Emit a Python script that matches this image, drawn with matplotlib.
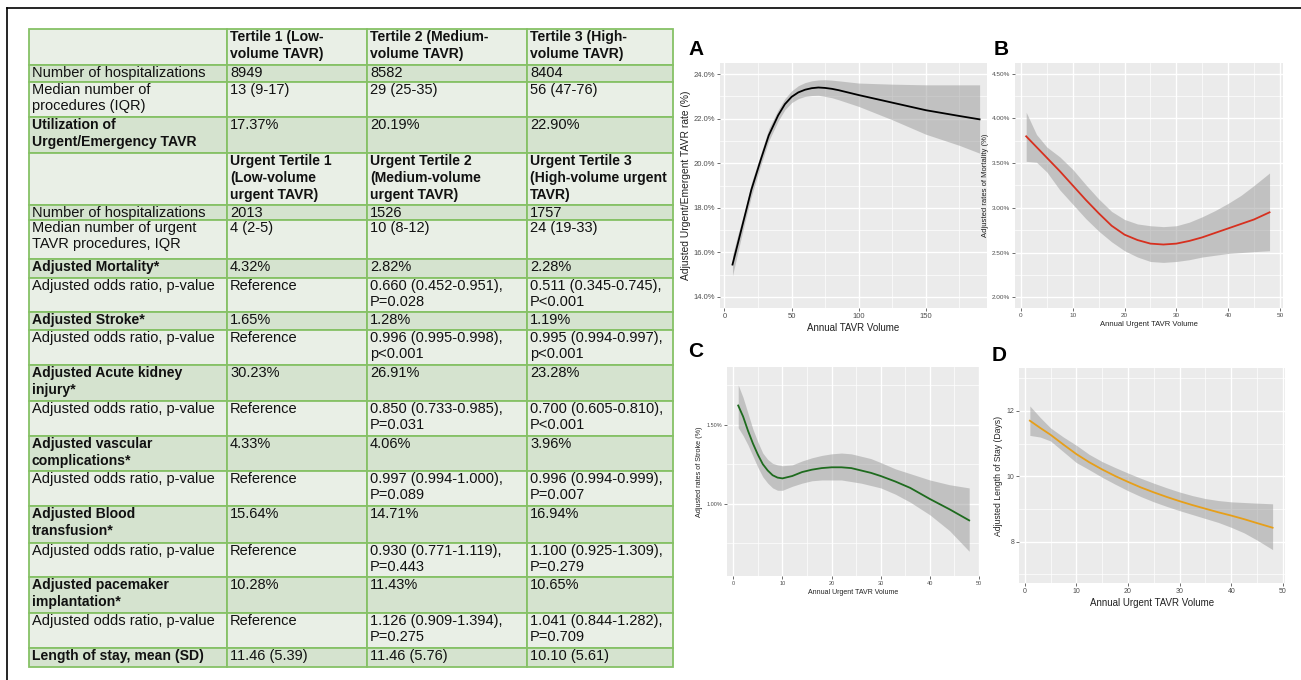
import matplotlib.pyplot as plt
from matplotlib.patches import Rectangle

plt.rcParams["font.family"] = ["Liberation Sans", "DejaVu Sans"]

W, H = 1301, 680

# ---------------- table data ----------------
row_labels = [
    "",
    "Number of hospitalizations",
    "Median number of\nprocedures (IQR)",
    "Utilization of\nUrgent/Emergency TAVR",
    "",
    "Number of hospitalizations",
    "Median number of urgent\nTAVR procedures, IQR",
    "Adjusted Mortality*",
    "Adjusted odds ratio, p-value",
    "Adjusted Stroke*",
    "Adjusted odds ratio, p-value",
    "Adjusted Acute kidney\ninjury*",
    "Adjusted odds ratio, p-value",
    "Adjusted vascular\ncomplications*",
    "Adjusted odds ratio, p-value",
    "Adjusted Blood\ntransfusion*",
    "Adjusted odds ratio, p-value",
    "Adjusted pacemaker\nimplantation*",
    "Adjusted odds ratio, p-value",
    "Length of stay, mean (SD)",
]
tertile1 = [
    "Tertile 1 (Low-\nvolume TAVR)", "8949", "13 (9-17)", "17.37%",
    "Urgent Tertile 1\n(Low-volume\nurgent TAVR)", "2013", "4 (2-5)",
    "4.32%", "Reference", "1.65%", "Reference", "30.23%", "Reference",
    "4.33%", "Reference", "15.64%", "Reference", "10.28%", "Reference",
    "11.46 (5.39)",
]
tertile2 = [
    "Tertile 2 (Medium-\nvolume TAVR)", "8582", "29 (25-35)", "20.19%",
    "Urgent Tertile 2\n(Medium-volume\nurgent TAVR)", "1526", "10 (8-12)",
    "2.82%", "0.660 (0.452-0.951),\nP=0.028",
    "1.28%", "0.996 (0.995-0.998),\np<0.001",
    "26.91%", "0.850 (0.733-0.985),\nP=0.031",
    "4.06%", "0.997 (0.994-1.000),\nP=0.089",
    "14.71%", "0.930 (0.771-1.119),\nP=0.443",
    "11.43%", "1.126 (0.909-1.394),\nP=0.275",
    "11.46 (5.76)",
]
tertile3 = [
    "Tertile 3 (High-\nvolume TAVR)", "8404", "56 (47-76)", "22.90%",
    "Urgent Tertile 3\n(High-volume urgent\nTAVR)", "1757", "24 (19-33)",
    "2.28%", "0.511 (0.345-0.745),\nP<0.001",
    "1.19%", "0.995 (0.994-0.997),\np<0.001",
    "23.28%", "0.700 (0.605-0.810),\nP<0.001",
    "3.96%", "0.996 (0.994-0.999),\nP=0.007",
    "16.94%", "1.100 (0.925-1.309),\nP=0.279",
    "10.65%", "1.041 (0.844-1.282),\nP=0.709",
    "10.10 (5.61)",
]
label_bold = [0, 3, 4, 7, 9, 11, 13, 15, 17, 19]
header_rows = [0, 4]

# ---------------- curve data ----------------
a_x = [6, 10, 15, 20, 27, 33, 40, 45, 50, 55, 60, 65, 70, 75, 80, 85, 100, 125,
       150, 175, 190]
a_fit = [15.45, 16.4, 17.6, 18.8, 20.15, 21.25, 22.15, 22.65, 22.98, 23.18,
         23.3, 23.37, 23.4, 23.38, 23.34, 23.28, 23.06, 22.72, 22.38, 22.12, 21.97]
a_lo = [14.95, 16.0, 17.3, 18.5, 19.9, 21.0, 21.9, 22.4, 22.72, 22.9, 23.0,
        23.04, 23.05, 23.0, 22.94, 22.85, 22.55, 21.95, 21.3, 20.8, 20.45]
a_hi = [15.85, 16.8, 17.85, 19.1, 20.4, 21.55, 22.4, 22.9, 23.25, 23.48, 23.62,
        23.7, 23.74, 23.75, 23.73, 23.7, 23.6, 23.55, 23.52, 23.52, 23.52]

b_x = [1, 3, 5, 7.5, 10, 12.5, 15, 17.5, 20, 22.5, 25, 27.5, 30, 32.5, 35, 37.5,
       40, 42.5, 45, 48]
b_fit = [3.80, 3.68, 3.56, 3.41, 3.25, 3.09, 2.94, 2.80, 2.70, 2.64, 2.60, 2.59,
         2.60, 2.63, 2.67, 2.72, 2.77, 2.82, 2.87, 2.95]
b_lo = [3.52, 3.51, 3.40, 3.20, 3.04, 2.88, 2.74, 2.62, 2.52, 2.45, 2.40, 2.39,
        2.40, 2.42, 2.45, 2.47, 2.49, 2.50, 2.51, 2.52]
b_hi = [4.07, 3.82, 3.68, 3.57, 3.43, 3.26, 3.10, 2.96, 2.87, 2.82, 2.80, 2.79,
        2.80, 2.84, 2.90, 2.97, 3.05, 3.14, 3.25, 3.39]

c_x = [1, 2, 3, 4, 5, 6, 7, 8, 9, 10, 12, 14, 16, 18, 20, 22, 24, 26, 28, 30,
       33, 36, 40, 44, 48]
c_fit = [1.62, 1.55, 1.46, 1.38, 1.31, 1.25, 1.21, 1.18, 1.165, 1.16, 1.175,
         1.20, 1.215, 1.225, 1.23, 1.23, 1.225, 1.21, 1.195, 1.175, 1.14, 1.10,
         1.03, 0.965, 0.895]
c_lo = [1.48, 1.43, 1.37, 1.30, 1.23, 1.17, 1.13, 1.10, 1.085, 1.085, 1.11,
        1.13, 1.145, 1.15, 1.15, 1.15, 1.14, 1.13, 1.115, 1.10, 1.06, 1.01,
        0.93, 0.83, 0.70]
c_hi = [1.75, 1.67, 1.57, 1.47, 1.39, 1.32, 1.28, 1.255, 1.245, 1.24, 1.245,
        1.27, 1.29, 1.305, 1.315, 1.32, 1.315, 1.30, 1.285, 1.26, 1.22, 1.19,
        1.15, 1.12, 1.10]

d_x = [1, 3, 5, 7.5, 10, 12.5, 15, 17.5, 20, 22.5, 25, 27.5, 30, 32.5, 35, 37.5,
       40, 42.5, 45, 48]
d_fit = [11.70, 11.48, 11.27, 10.97, 10.68, 10.43, 10.21, 10.01, 9.83, 9.66,
         9.51, 9.37, 9.24, 9.12, 9.01, 8.90, 8.80, 8.69, 8.57, 8.43]
d_lo = [11.25, 11.2, 11.08, 10.75, 10.42, 10.2, 9.97, 9.76, 9.56, 9.38, 9.22,
        9.08, 8.95, 8.83, 8.71, 8.59, 8.44, 8.27, 8.05, 7.76]
d_hi = [12.15, 11.8, 11.48, 11.2, 10.95, 10.67, 10.45, 10.27, 10.10, 9.94, 9.79,
        9.65, 9.52, 9.41, 9.32, 9.26, 9.22, 9.20, 9.18, 9.16]

# ---------------- figure ----------------
fig = plt.figure(figsize=(W / 100, H / 100), dpi=100)
canvas = fig.add_axes([0, 0, 1, 1])
canvas.set_xlim(0, W)
canvas.set_ylim(H, 0)
canvas.set_axis_off()

# outer frame (left + top edges visible in the crop)
canvas.plot([7, 7], [8, 680], color="black", lw=1.2)
canvas.plot([7, 1301], [8, 8], color="black", lw=1.2)

LIGHT = "#E9EFE6"
DARK = "#D5E3CF"
BORDER = "#86C166"
row_edges = [29, 65, 82, 117, 153, 205, 220, 259, 278, 312, 330, 365, 401, 436,
             471, 506, 543, 577, 613, 648, 667]
col_edges = [29, 227, 367, 527, 673]

columns = [row_labels, tertile1, tertile2, tertile3]
for r in range(len(row_labels)):
    y0, y1 = row_edges[r], row_edges[r + 1]
    fill = DARK if r % 2 else LIGHT
    for c, col in enumerate(columns):
        x0, x1 = col_edges[c], col_edges[c + 1]
        canvas.add_patch(Rectangle((x0, y0), x1 - x0, y1 - y0, facecolor=fill,
                                   edgecolor=BORDER, lw=1.3))
        bold = (r in label_bold) if c == 0 else (r in header_rows)
        canvas.text(x0 + 3, y0 + 1, col[r], ha="left", va="top",
                    fontsize=10.1 if bold else 10.5,
                    fontweight="bold" if bold else "normal", color="#111111",
                    linespacing=1.22 if not bold else 1.26)


def px_rect(left, top, right, bottom):
    return [left / W, 1 - bottom / H, (right - left) / W, (bottom - top) / H]


xticks_major = {True: [0, 50, 100, 150], False: [0, 10, 20, 30, 40, 50]}
xticks_minor = {True: [25, 75, 125, 175], False: [5, 15, 25, 35, 45]}


def panel(rect, x, fit, lo, hi, color, xlim, ylim, yticks, yminor, ylabels,
          xlabel, ylabel, tick_fs, xlab_fs, ylab_fs, letter, letter_xy):
    ax = fig.add_axes(px_rect(*rect))
    ax.set_facecolor("#EBEBEB")
    for s in ax.spines.values():
        s.set_visible(False)
    ax.fill_between(x, lo, hi, color="#999999", alpha=0.5, lw=0, zorder=2)
    ax.plot(x, fit, color=color, lw=1.3, zorder=3)
    ax.set_xlim(*xlim)
    ax.set_ylim(*ylim)
    wide = xlim[1] > 100
    ax.set_xticks(xticks_major[wide])
    ax.set_xticks(xticks_minor[wide], minor=True)
    ax.set_yticks(yticks)
    ax.set_yticklabels(ylabels)
    ax.set_yticks(yminor, minor=True)
    ax.grid(which="major", color="white", lw=1.0, zorder=1)
    ax.grid(which="minor", color="white", lw=0.5, zorder=1)
    ax.set_axisbelow(True)
    ax.tick_params(which="major", length=2, width=0.5, color="#333333",
                   labelsize=tick_fs, labelcolor="#4D4D4D", pad=1.5)
    ax.tick_params(which="minor", length=0)
    ax.set_xlabel(xlabel, fontsize=xlab_fs, color="#222222", labelpad=2)
    ax.set_ylabel(ylabel, fontsize=ylab_fs, color="#222222", labelpad=2)
    canvas.text(letter_xy[0], letter_xy[1], letter, fontsize=15,
                fontweight="bold", ha="left", va="top")
    return ax


panel((720, 63, 987, 308), a_x, a_fit, a_lo, a_hi, "black", (-3.3, 195.5),
      (13.5, 24.5), [14, 16, 18, 20, 22, 24], [15, 17, 19, 21, 23],
      ["14.0%", "16.0%", "18.0%", "20.0%", "22.0%", "24.0%"],
      "Annual TAVR Volume", "Adjusted Urgent/Emergent TAVR rate (%)",
      5.5, 7, 7.4, "A", (688, 40))

panel((1015, 63, 1283, 308), b_x, b_fit, b_lo, b_hi, "#D7301F", (-1.16, 50.6),
      (1.88, 4.62), [2.0, 2.5, 3.0, 3.5, 4.0, 4.5], [2.25, 2.75, 3.25, 3.75, 4.25],
      ["2.00%", "2.50%", "3.00%", "3.50%", "4.00%", "4.50%"],
      "Annual Urgent TAVR Volume", "Adjusted rates of Mortality (%)",
      4.6, 5.5, 5.5, "B", (994, 40))

panel((727, 367, 980, 576), c_x, c_fit, c_lo, c_hi, "#1E6B1E", (-1.28, 50.2),
      (0.544, 1.863), [1.0, 1.5], [0.75, 1.25, 1.75],
      ["1.00%", "1.50%"],
      "Annual Urgent TAVR Volume", "Adjusted rates of Stroke (%)",
      4.0, 5.0, 5.2, "C", (688, 342))

panel((1019, 368, 1285, 583), d_x, d_fit, d_lo, d_hi, "#E69F1A", (-1.1, 50.4),
      (6.74, 13.31), [8, 10, 12], [7, 9, 11, 13],
      ["8", "10", "12"],
      "Annual Urgent TAVR Volume", "Adjusted Length of Stay (Days)",
      5.0, 7, 6.2, "D", (992, 346))

fig.savefig("out.png", dpi=100, facecolor="white")
